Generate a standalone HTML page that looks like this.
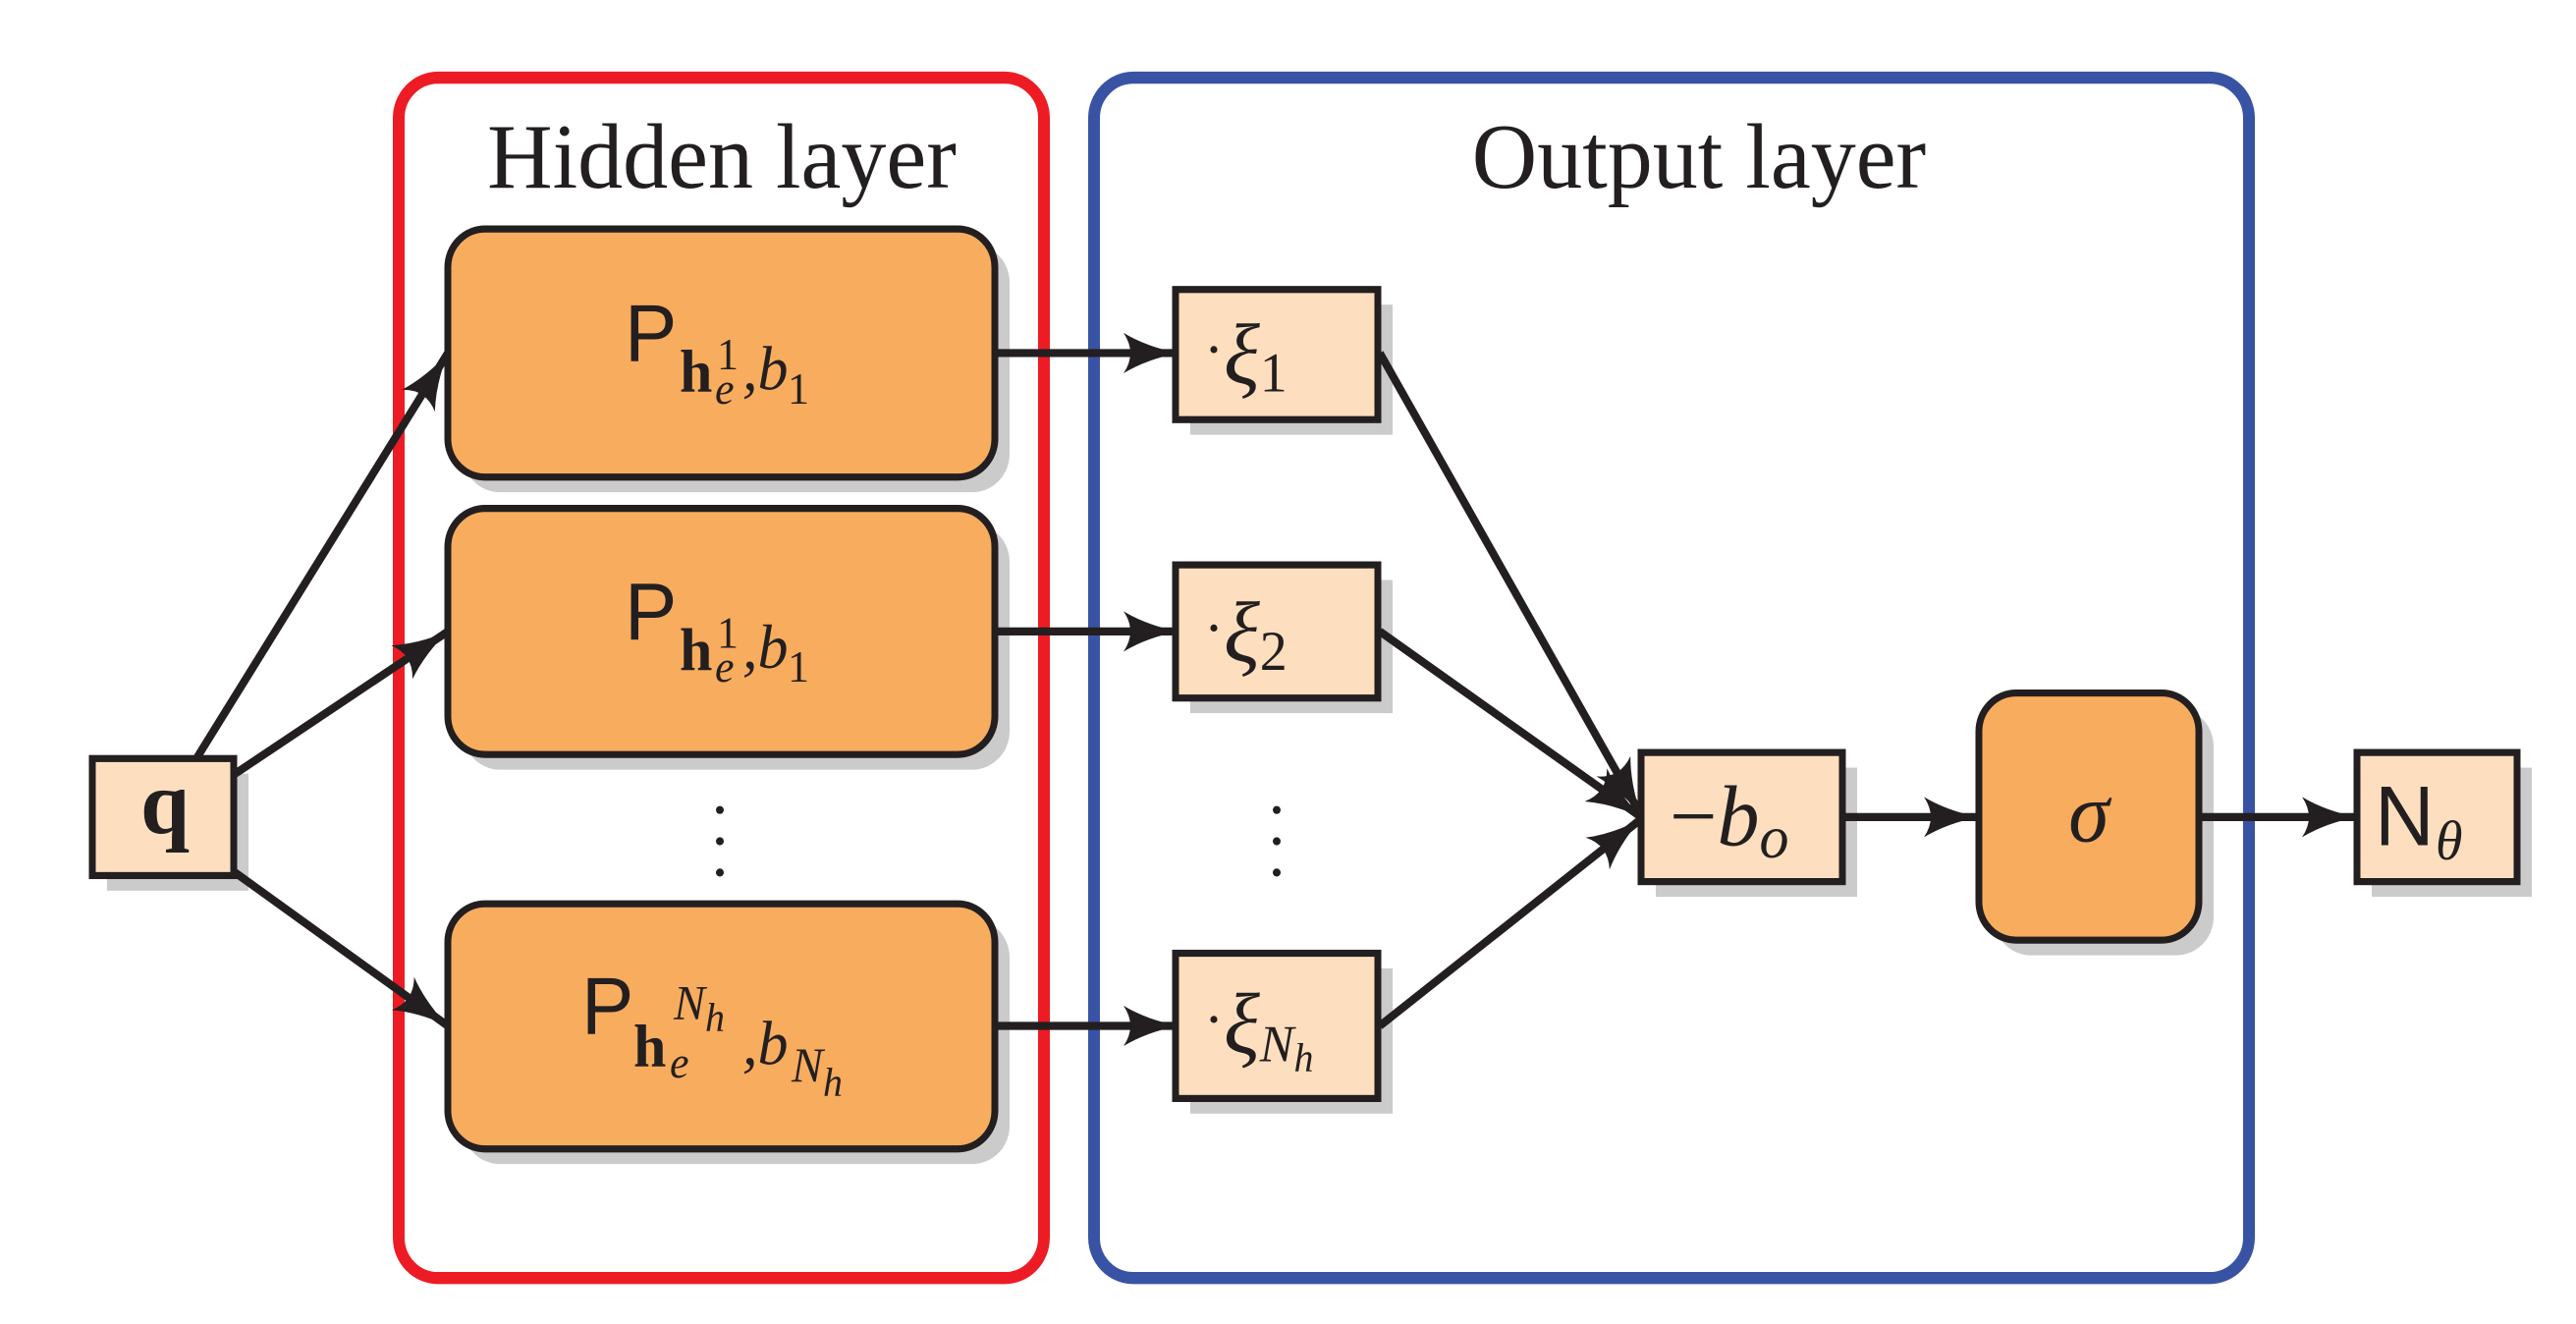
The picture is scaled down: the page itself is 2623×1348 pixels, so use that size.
<!DOCTYPE html>
<html><head><meta charset="utf-8"><style>
html,body{margin:0;padding:0;background:#fff;}
svg{display:block;}
text{fill:#231f20;}
.serif{font-family:"Liberation Serif","DejaVu Serif",serif;}
.sans{font-family:"Liberation Sans","DejaVu Sans",sans-serif;}
</style></head><body>
<svg width="2623" height="1348" viewBox="0 0 2623 1348" xmlns="http://www.w3.org/2000/svg">
<defs>
<marker id="ah" markerUnits="userSpaceOnUse" markerWidth="70" markerHeight="50" refX="56" refY="20" orient="auto">
<path d="M0,0 Q24,14 56,20 Q24,26 0,40 Q14,20 0,0 Z" fill="#231f20"/>
</marker>
</defs>
<g transform="scale(1,1.027)">
<rect x="406" y="77" width="657" height="1190" rx="40" fill="none" stroke="#ed1c24" stroke-width="12"/>
<rect x="1114" y="77" width="1176" height="1190" rx="40" fill="none" stroke="#3953a4" stroke-width="12"/>
<text class="serif" x="735" y="186" font-size="92" text-anchor="middle">Hidden layer</text>
<text class="serif" x="1730" y="186" font-size="92" text-anchor="middle">Output layer</text>

<g fill="#cbcbcc">
<rect x="471" y="242" width="557" height="246" rx="38"/>
<rect x="471" y="519" width="557" height="244" rx="38"/>
<rect x="471" y="911" width="557" height="243" rx="38"/>
<rect x="109" y="767" width="144" height="116"/>
<rect x="1212" y="302" width="206" height="129"/>
<rect x="1212" y="575" width="206" height="132"/>
<rect x="1212" y="960" width="206" height="144"/>
<rect x="1686" y="761" width="205" height="128"/>
<rect x="2030" y="702" width="224" height="245" rx="38"/>
<rect x="2415" y="761" width="163" height="128"/>
</g>
<g stroke="#231f20" stroke-width="8" fill="none" marker-end="url(#ah)">
<line x1="200" y1="752" x2="456" y2="350"/>
<line x1="238" y1="768" x2="456" y2="626"/>
<line x1="238" y1="864" x2="456" y2="1017"/>
<line x1="1013" y1="350" x2="1200" y2="350"/>
<line x1="1013" y1="626" x2="1200" y2="626"/>
<line x1="1013" y1="1017" x2="1200" y2="1017"/>
<line x1="1405" y1="350" x2="1671" y2="808"/>
<line x1="1405" y1="626" x2="1671" y2="810"/>
<line x1="1405" y1="1017" x2="1671" y2="812"/>
<line x1="1876" y1="810" x2="2015" y2="810"/>
<line x1="2239" y1="810" x2="2400" y2="810"/>
</g>
<g fill="#f8ac5e" stroke="#231f20" stroke-width="7">
<rect x="456" y="227" width="557" height="246" rx="38"/>
<rect x="456" y="504" width="557" height="244" rx="38"/>
<rect x="456" y="896" width="557" height="243" rx="38"/>
<rect x="2015" y="687" width="224" height="245" rx="38"/>
</g>
<g fill="#fddfbf" stroke="#231f20" stroke-width="7">
<rect x="94" y="752" width="144" height="116"/>
<rect x="1197" y="287" width="206" height="129"/>
<rect x="1197" y="560" width="206" height="132"/>
<rect x="1197" y="945" width="206" height="144"/>
<rect x="1671" y="746" width="205" height="128"/>
<rect x="2400" y="746" width="163" height="128"/>
</g>
<text class="serif" x="168" y="826" font-size="90" font-weight="bold" text-anchor="middle">q</text>

<text x="636" y="358" font-size="80" class="sans">P</text>
<text x="692" y="388" font-size="60" class="serif" font-weight="bold">h</text>
<text x="730" y="366" font-size="44" class="serif">1</text>
<text x="728" y="400" font-size="44" class="serif" font-style="italic">e</text>
<text x="756" y="386" font-size="62" class="serif" font-style="italic">,b</text>
<text x="802" y="400" font-size="44" class="serif">1</text>

<text x="636" y="634" font-size="80" class="sans">P</text>
<text x="692" y="664" font-size="60" class="serif" font-weight="bold">h</text>
<text x="730" y="642" font-size="44" class="serif">1</text>
<text x="728" y="676" font-size="44" class="serif" font-style="italic">e</text>
<text x="756" y="662" font-size="62" class="serif" font-style="italic">,b</text>
<text x="802" y="676" font-size="44" class="serif">1</text>

<text x="592" y="1025" font-size="80" class="sans">P</text>
<text x="645" y="1057" font-size="60" class="serif" font-weight="bold">h</text>
<text x="686" y="1010" font-size="48" class="serif" font-style="italic">N<tspan font-size="40" dy="12">h</tspan></text>
<text x="682" y="1068" font-size="44" class="serif" font-style="italic">e</text>
<text x="756" y="1055" font-size="62" class="serif" font-style="italic">,b</text>
<text x="806" y="1072" font-size="48" class="serif" font-style="italic">N<tspan font-size="40" dy="14">h</tspan></text>

<g fill="#231f20">
<circle cx="733" cy="803" r="4"/><circle cx="733" cy="834" r="4"/><circle cx="733" cy="865" r="4"/>
<circle cx="1300" cy="803" r="4"/><circle cx="1300" cy="834" r="4"/><circle cx="1300" cy="865" r="4"/>
</g>

<text class="serif" x="1226" y="380" font-size="86"><tspan font-size="60" dy="-14">·</tspan><tspan dy="14" font-style="italic">ξ</tspan><tspan font-size="56" dy="8">1</tspan></text>
<text class="serif" x="1226" y="656" font-size="86"><tspan font-size="60" dy="-14">·</tspan><tspan dy="14" font-style="italic">ξ</tspan><tspan font-size="56" dy="8">2</tspan></text>
<text class="serif" x="1226" y="1044" font-size="86"><tspan font-size="60" dy="-14">·</tspan><tspan dy="14" font-style="italic">ξ</tspan><tspan font-size="52" dy="8" font-style="italic">N<tspan font-size="40" dy="10">h</tspan></tspan></text>

<text class="serif" x="1700" y="838" font-size="86" font-style="italic"><tspan font-style="normal">−</tspan>b<tspan font-size="60" dy="12">o</tspan></text>
<text class="serif" x="2127" y="834" font-size="84" font-style="italic" text-anchor="middle">σ</text>
<text x="2418" y="838" font-size="84" class="sans">N</text>
<text x="2480" y="852" font-size="56" class="serif" font-style="italic">θ</text>
</g>
</svg>
</body></html>
